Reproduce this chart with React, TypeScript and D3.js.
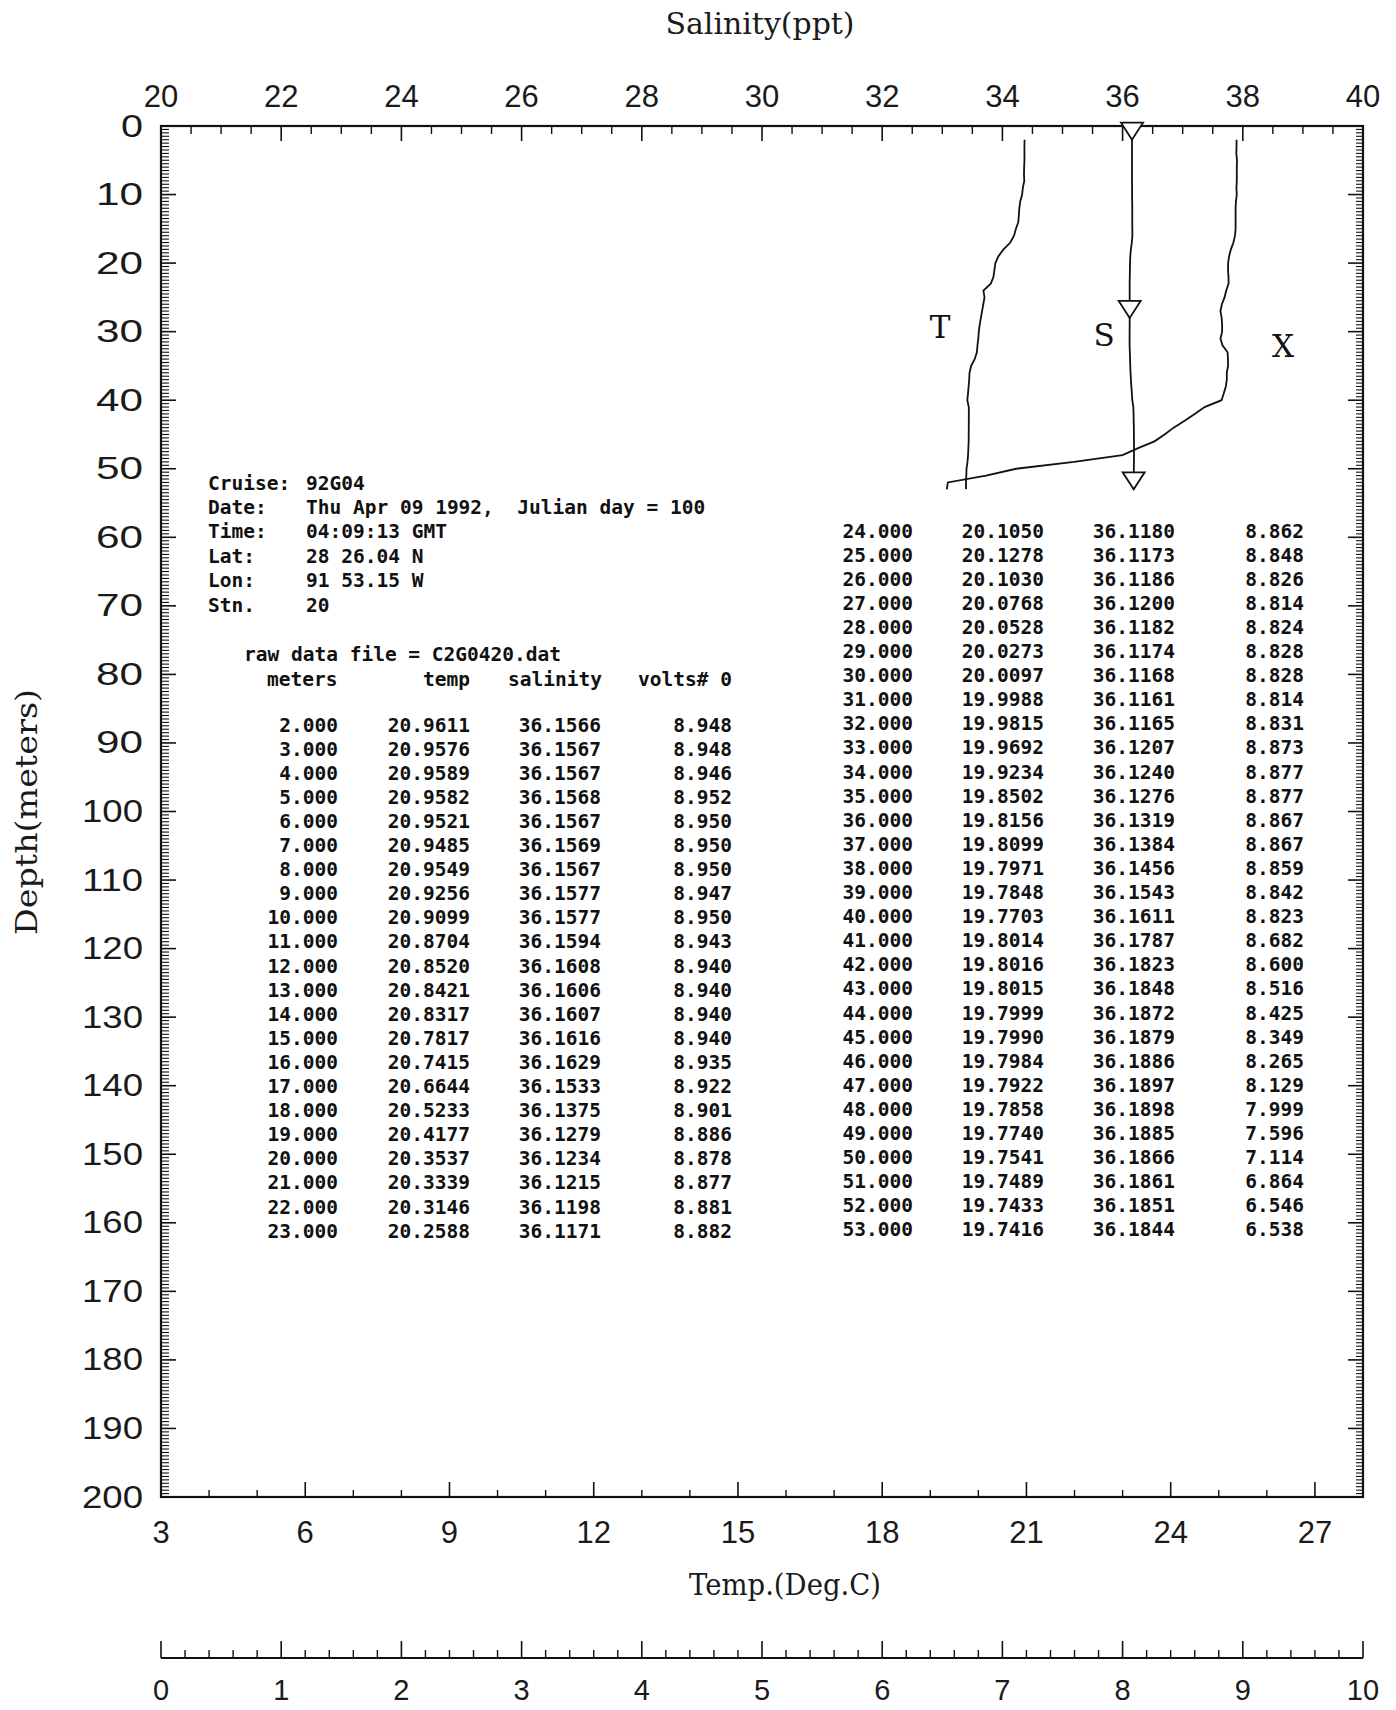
import React from 'react';
import * as d3 from 'd3';

// ---------- data ----------
const depthM = [2, 3, 4, 5, 6, 7, 8, 9, 10, 11, 12, 13, 14, 15, 16, 17, 18, 19, 20, 21, 22, 23,
  24, 25, 26, 27, 28, 29, 30, 31, 32, 33, 34, 35, 36, 37, 38, 39, 40, 41, 42, 43, 44, 45, 46, 47, 48, 49, 50, 51, 52, 53];
const tempC = [20.9611, 20.9576, 20.9589, 20.9582, 20.9521, 20.9485, 20.9549, 20.9256, 20.9099, 20.8704, 20.8520,
  20.8421, 20.8317, 20.7817, 20.7415, 20.6644, 20.5233, 20.4177, 20.3537, 20.3339, 20.3146, 20.2588,
  20.1050, 20.1278, 20.1030, 20.0768, 20.0528, 20.0273, 20.0097, 19.9988, 19.9815, 19.9692, 19.9234,
  19.8502, 19.8156, 19.8099, 19.7971, 19.7848, 19.7703, 19.8014, 19.8016, 19.8015, 19.7999, 19.7990,
  19.7984, 19.7922, 19.7858, 19.7740, 19.7541, 19.7489, 19.7433, 19.7416];
const salinity = [36.1566, 36.1567, 36.1567, 36.1568, 36.1567, 36.1569, 36.1567, 36.1577, 36.1577, 36.1594, 36.1608,
  36.1606, 36.1607, 36.1616, 36.1629, 36.1533, 36.1375, 36.1279, 36.1234, 36.1215, 36.1198, 36.1171,
  36.1180, 36.1173, 36.1186, 36.1200, 36.1182, 36.1174, 36.1168, 36.1161, 36.1165, 36.1207, 36.1240,
  36.1276, 36.1319, 36.1384, 36.1456, 36.1543, 36.1611, 36.1787, 36.1823, 36.1848, 36.1872, 36.1879,
  36.1886, 36.1897, 36.1898, 36.1885, 36.1866, 36.1861, 36.1851, 36.1844];
const volts = [8.948, 8.948, 8.946, 8.952, 8.950, 8.950, 8.950, 8.947, 8.950, 8.943, 8.940,
  8.940, 8.940, 8.940, 8.935, 8.922, 8.901, 8.886, 8.878, 8.877, 8.881, 8.882,
  8.862, 8.848, 8.826, 8.814, 8.824, 8.828, 8.828, 8.814, 8.831, 8.873, 8.877,
  8.877, 8.867, 8.867, 8.859, 8.842, 8.823, 8.682, 8.600, 8.516, 8.425, 8.349,
  8.265, 8.129, 7.999, 7.596, 7.114, 6.864, 6.546, 6.538];

const salTicks = [20, 22, 24, 26, 28, 30, 32, 34, 36, 38, 40];
const depthTicks = [0, 10, 20, 30, 40, 50, 60, 70, 80, 90, 100, 110, 120, 130, 140, 150, 160, 170, 180, 190, 200];
const tempTicks = [3, 6, 9, 12, 15, 18, 21, 24, 27];
const voltTicks = [0, 1, 2, 3, 4, 5, 6, 7, 8, 9, 10];

const headerLabels = ['Cruise:', 'Date:', 'Time:', 'Lat:', 'Lon:', 'Stn.'];
const headerValues = ['92G04', 'Thu Apr 09 1992,  Julian day = 100', '04:09:13 GMT', '28 26.04 N', '91 53.15 W', '20'];
const rawFileLine = 'raw data file = C2G0420.dat';
const columnHeads = ['meters', 'temp', 'salinity', 'volts# 0'];
const markerDepths = [2, 28, 53];
const curveLabels = ['T', 'S', 'X'];

// ---------- layout ----------
const W = 1396, H = 1710;
const X0 = 161, X1 = 1363, Y0 = 126, Y1 = 1497;
const VY = 1658; // extra volts axis line

const yS = d3.scaleLinear().domain([0, 200]).range([Y0, Y1]);
const salS = d3.scaleLinear().domain([20, 40]).range([X0, X1]);
const tempS = d3.scaleLinear().domain([3, 28]).range([X0, X1]);
const voltS = d3.scaleLinear().domain([0, 10]).range([X0, X1]);

const tickFont = '"Liberation Sans", Arial, sans-serif';
const serif = '"DejaVu Serif", "Liberation Serif", serif';
const tableFont = '"DejaVu Sans Mono", monospace';

function isMajor(v: number, step: number) {
  return Math.abs(v / step - Math.round(v / step)) < 1e-6;
}
const keepSpaces = (s: string) => s.replace(/  /g, '\u00A0 ');

export default function App() {
  const rows = depthM.map((d, i) => ({ d, t: tempC[i], s: salinity[i], v: volts[i] }));

  const lineT = d3.line<any>().x((r) => tempS(r.t)).y((r) => yS(r.d));
  const lineS = d3.line<any>().x((r) => salS(r.s)).y((r) => yS(r.d));
  const lineX = d3.line<any>().x((r) => voltS(r.v)).y((r) => yS(r.d));

  const salMinor = d3.range(20, 40.001, 0.5).filter((v) => !isMajor(v, 2));
  const depthMinor = d3.range(0, 200.001, 0.5).filter((v) => !isMajor(v, 10));
  const tempMinor = d3.range(3, 28.001, 1).filter((v) => !isMajor(v, 3));
  const voltMinor = d3.range(0, 10.001, 0.2).filter((v) => !isMajor(v, 1));

  const leftRows = rows.filter((r) => r.d <= 23);
  const rightRows = rows.filter((r) => r.d > 23);

  const rowH = 24.1;
  const leftCols = [338, 470, 601, 732];
  const rightCols = [913, 1044, 1175, 1304];

  const markers = rows.filter((r) => markerDepths.includes(r.d));

  const tableText = (r: any, i: number, cols: number[], y0: number) => {
    const y = y0 + i * rowH;
    const vals = [r.d.toFixed(3), r.t.toFixed(4), r.s.toFixed(4), r.v.toFixed(3)];
    return vals.map((txt, k) => (
      <text key={k} x={cols[k]} y={y} textAnchor="end" dominantBaseline="central">{txt}</text>
    ));
  };

  return (
    <div style={{ position: 'absolute', left: 0, top: 0 }}>
      <svg width={W} height={H} viewBox={`0 0 ${W} ${H}`} style={{ display: 'block', background: '#fff' }}>
        <rect x={0} y={0} width={W} height={H} fill="#fff" />

        {/* frame */}
        <rect x={X0} y={Y0} width={X1 - X0} height={Y1 - Y0} fill="none" stroke="#111" strokeWidth={2.2} />

        {/* top salinity axis */}
        {salTicks.map((v) => (
          <g key={'st' + v}>
            <line x1={salS(v)} x2={salS(v)} y1={Y0} y2={Y0 + 15} stroke="#111" strokeWidth={1.6} />
            <text x={salS(v)} y={96} textAnchor="middle" dominantBaseline="central" fontFamily={tickFont} fontSize={31} fill="#1a1a1a">{v}</text>
          </g>
        ))}
        {salMinor.map((v) => (
          <line key={'sm' + v} x1={salS(v)} x2={salS(v)} y1={Y0} y2={Y0 + 8} stroke="#111" strokeWidth={1.4} />
        ))}
        <text x={(X0 + X1) / 2 - 2} y={24} textAnchor="middle" dominantBaseline="central" fontFamily={serif} fontSize={29} textLength={189} lengthAdjust="spacingAndGlyphs" fill="#1a1a1a">Salinity(ppt)</text>

        {/* left & right depth axis */}
        {depthTicks.map((v) => {
          const n = String(v).length;
          return (
            <g key={'dt' + v}>
              <line x1={X0} x2={X0 + 15} y1={yS(v)} y2={yS(v)} stroke="#111" strokeWidth={1.6} />
              <line x1={X1} x2={X1 - 15} y1={yS(v)} y2={yS(v)} stroke="#111" strokeWidth={1.6} />
              <text x={143} y={yS(v)} textAnchor="end" dominantBaseline="central" fontFamily={tickFont} fontSize={31} fill="#1a1a1a"
                textLength={n === 1 ? 22 : n === 2 ? 47 : 61} lengthAdjust="spacingAndGlyphs">{v}</text>
            </g>
          );
        })}
        {depthMinor.map((v) => (
          <g key={'dm' + v}>
            <line x1={X0} x2={X0 + 8} y1={yS(v)} y2={yS(v)} stroke="#111" strokeWidth={1.1} />
            <line x1={X1} x2={X1 - 7} y1={yS(v)} y2={yS(v)} stroke="#111" strokeWidth={1.1} />
          </g>
        ))}
        <text transform={`translate(27, ${812}) rotate(-90)`} textAnchor="middle" dominantBaseline="central" fontFamily={serif} fontSize={29} textLength={246} lengthAdjust="spacingAndGlyphs" fill="#1a1a1a">Depth(meters)</text>

        {/* bottom temp axis */}
        {tempTicks.map((v) => (
          <g key={'tt' + v}>
            <line x1={tempS(v)} x2={tempS(v)} y1={Y1} y2={Y1 - 15} stroke="#111" strokeWidth={1.6} />
            <text x={tempS(v)} y={1532} textAnchor="middle" dominantBaseline="central" fontFamily={tickFont} fontSize={31} fill="#1a1a1a">{v}</text>
          </g>
        ))}
        {tempMinor.map((v) => (
          <line key={'tm' + v} x1={tempS(v)} x2={tempS(v)} y1={Y1} y2={Y1 - 7} stroke="#111" strokeWidth={1.4} />
        ))}
        <text x={785} y={1585} textAnchor="middle" dominantBaseline="central" fontFamily={serif} fontSize={29} textLength={192} lengthAdjust="spacingAndGlyphs" fill="#1a1a1a">Temp.(Deg.C)</text>

        {/* extra volts axis */}
        <line x1={X0} x2={X1} y1={VY} y2={VY} stroke="#111" strokeWidth={2.2} />
        {voltTicks.map((v) => (
          <g key={'vt' + v}>
            <line x1={voltS(v)} x2={voltS(v)} y1={VY} y2={VY - 17} stroke="#111" strokeWidth={1.6} />
            <text x={voltS(v)} y={1700} textAnchor="middle" fontFamily={tickFont} fontSize={29} fill="#1a1a1a">{v}</text>
          </g>
        ))}
        {voltMinor.map((v) => (
          <line key={'vm' + v} x1={voltS(v)} x2={voltS(v)} y1={VY} y2={VY - 8} stroke="#111" strokeWidth={1.4} />
        ))}

        {/* curves */}
        <path d={lineT(rows) || ''} fill="none" stroke="#111" strokeWidth={1.8} />
        <path d={lineS(rows) || ''} fill="none" stroke="#111" strokeWidth={1.8} />
        <path d={lineX(rows) || ''} fill="none" stroke="#111" strokeWidth={1.8} />
        {markers.map((r) => {
          const x = salS(r.s), y = yS(r.d);
          return <path key={'mk' + r.d} d={`M${x},${y} L${x - 11},${y - 17} L${x + 11},${y - 17} Z`} fill="#fff" stroke="#111" strokeWidth={1.8} />;
        })}
        <g fontFamily={serif} fontSize={31} fill="#111" textAnchor="middle" dominantBaseline="central">
          <text x={940} y={327}>{curveLabels[0]}</text>
          <text x={1104} y={335}>{curveLabels[1]}</text>
          <text x={1283} y={346}>{curveLabels[2]}</text>
        </g>

        {/* text block */}
        <g fontFamily={tableFont} fontWeight="bold" fontSize={19.5} fill="#111">
          {headerLabels.map((lab, i) => (
            <g key={'h' + i}>
              <text x={208} y={483 + i * 24.4} dominantBaseline="central">{lab}</text>
              <text x={306} y={483 + i * 24.4} dominantBaseline="central">{keepSpaces(headerValues[i])}</text>
            </g>
          ))}
          <text x={244} y={654} dominantBaseline="central">{rawFileLine}</text>
          <text x={267} y={679} dominantBaseline="central">{columnHeads[0]}</text>
          <text x={470} y={679} textAnchor="end" dominantBaseline="central">{columnHeads[1]}</text>
          <text x={602} y={679} textAnchor="end" dominantBaseline="central">{columnHeads[2]}</text>
          <text x={732} y={679} textAnchor="end" dominantBaseline="central">{columnHeads[3]}</text>
          {leftRows.map((r, i) => <g key={'lr' + i}>{tableText(r, i, leftCols, 725)}</g>)}
          {rightRows.map((r, i) => <g key={'rr' + i}>{tableText(r, i, rightCols, 531)}</g>)}
        </g>
      </svg>
    </div>
  );
}
